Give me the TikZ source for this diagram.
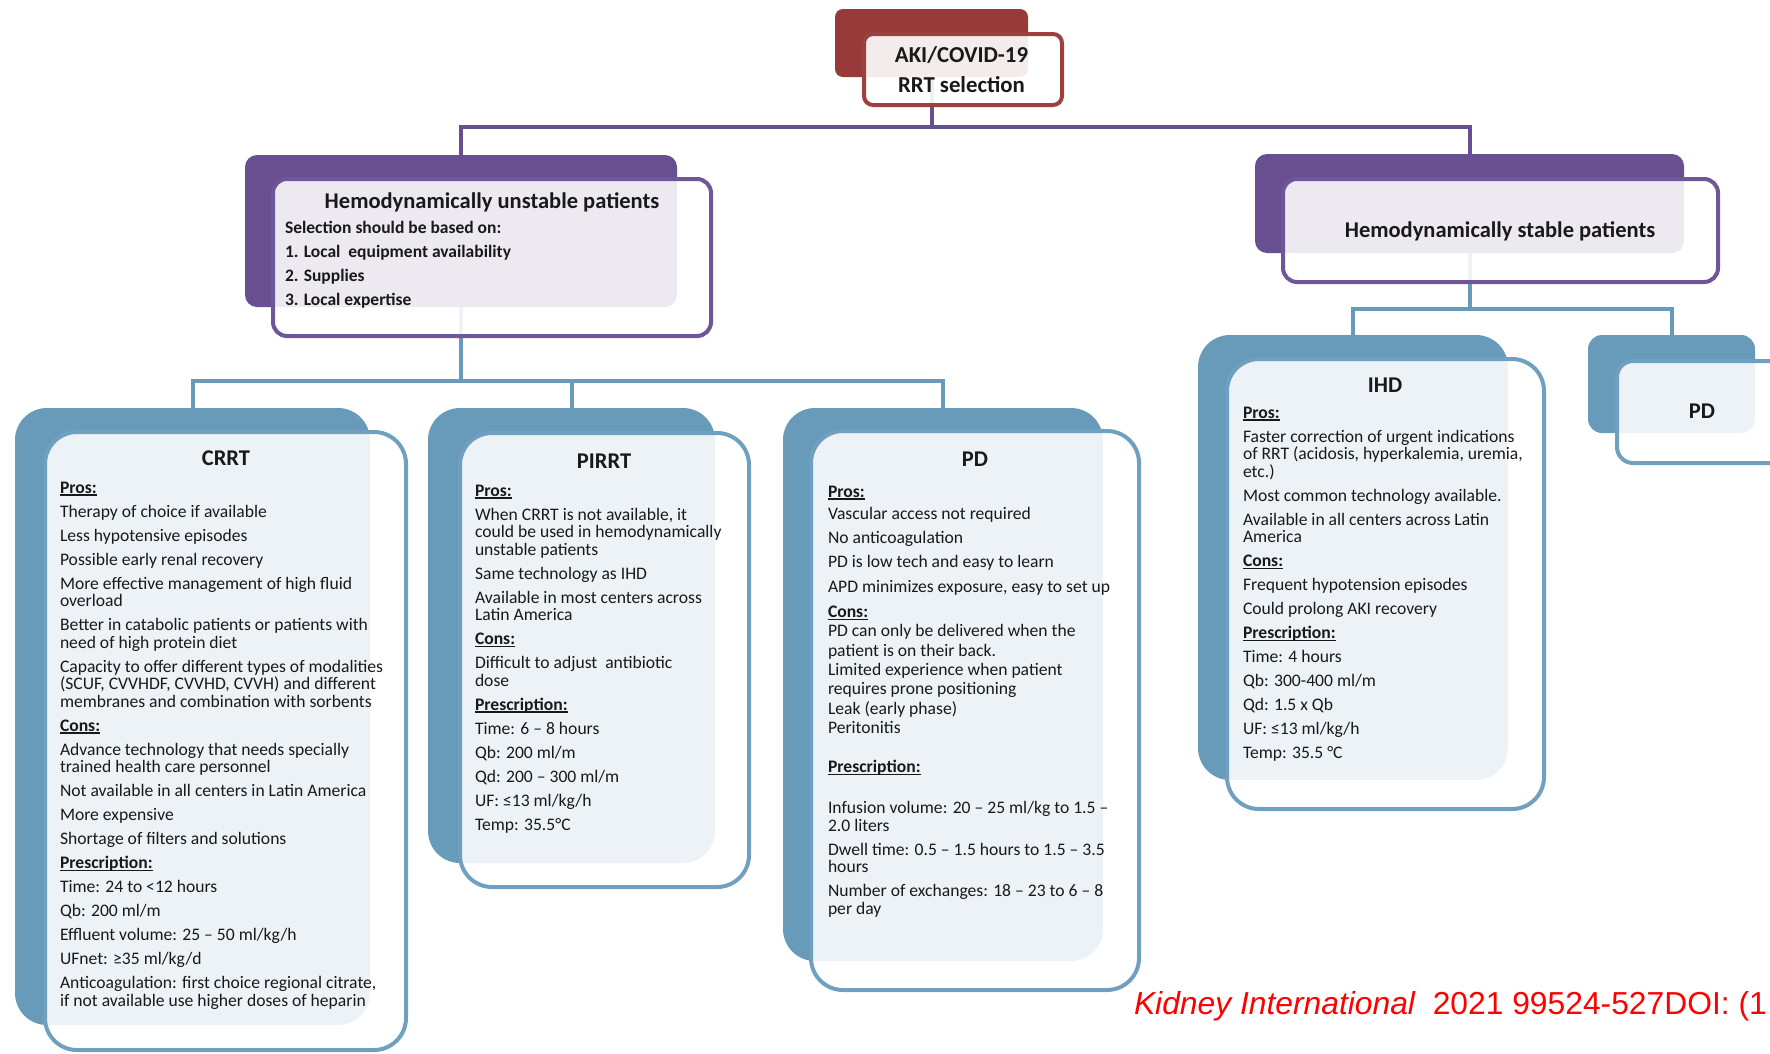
\documentclass[tikz,border=0pt]{standalone}
\usepackage{fontspec}
\setmainfont{Carlito}
\newfontfamily\citefont{Liberation Sans}
\definecolor{purp}{RGB}{103,79,146}
\definecolor{purpline}{RGB}{110,86,152}
\definecolor{dred}{RGB}{151,58,57}
\definecolor{dredline}{RGB}{158,64,64}
\definecolor{stblue}{RGB}{104,154,186}
\definecolor{stblueline}{RGB}{112,160,192}
\definecolor{txt}{RGB}{25,25,25}
\newlength\hdlen
\newcommand\hd[1]{\settowidth\hdlen{\bfseries #1}{\bfseries #1}\hspace{-\hdlen}\rule[-2.7pt]{\hdlen}{1.3pt}}
\newcommand\bodyfont{\fontsize{17.6pt}{17.5pt}\selectfont}
\newcommand\bodytext[2]{\parbox[t]{#1}{\bodyfont\raggedright #2}}
\newcommand\g{\\[6.5pt]}
\pgfdeclarelayer{bgl}
\pgfdeclarelayer{conn}
\pgfsetlayers{bgl,conn,main}
\begin{document}
\begin{tikzpicture}[x=1pt,y=-1pt,
 every node/.style={inner sep=0pt,outer sep=0pt},
 backP/.style={fill=purp,draw=none,rounded corners=12pt},
 frontP/.style={fill=white,fill opacity=0.88,draw=purpline,draw opacity=1,line width=4pt,rounded corners=14pt},
 backR/.style={fill=dred,draw=none,rounded corners=8pt},
 frontR/.style={fill=white,fill opacity=0.9,draw=dredline,draw opacity=1,line width=4pt,rounded corners=9pt},
 backB/.style={fill=stblue,draw=none,rounded corners=32pt},
 frontB/.style={fill=white,fill opacity=0.88,draw=stblueline,draw opacity=1,line width=4pt,rounded corners=32pt},
 backBs/.style={fill=stblue,draw=none,rounded corners=14pt},
 frontBs/.style={fill=white,fill opacity=0.88,draw=stblueline,draw opacity=1,line width=4pt,rounded corners=16pt},
 connP/.style={draw=purp,line width=4pt},
 connB/.style={draw=stblue,line width=4pt},
 ttl/.style={font=\fontsize{22.5pt}{26pt}\selectfont\bfseries,text=txt,anchor=base},
 body/.style={text=txt,anchor=base west},
 sz/.style 2 args={minimum width=#1,minimum height=#2,anchor=north west}]

\useasboundingbox (0,0) rectangle (1770,1053);
\begin{pgfonlayer}{bgl}
\fill[white] (0,0) rectangle (1770,1053);
\end{pgfonlayer}

% top
\node[backR,sz={193pt}{68pt}] (akiB) at (835,9) {};
\node[frontR,sz={198pt}{71pt}] (akiF) at (864,34) {};
\node[ttl,font=\fontsize{22.8pt}{26pt}\selectfont\bfseries] (akiT1) at (961.5,62) {AKI/COVID-19};
\node[ttl,font=\fontsize{22.8pt}{26pt}\selectfont\bfseries] (akiT2) at (961.5,92) {RRT selection};

% unstable
\node[backP,sz={432pt}{152pt}] (ubB) at (245,155) {};
\node[frontP,sz={438pt}{157pt}] (ubF) at (273,179) {};
\node[ttl] (ubT) at (492,208) {Hemodynamically unstable patients};
\node[body] (ubX) at (285,233) {\parbox[t]{420pt}{\fontsize{17.5pt}{24pt}\selectfont\bfseries\raggedright
Selection should be based on:\\
1. Local\ \ equipment availability\\
2. Supplies\\
3. Local expertise}};

% stable
\node[backP,sz={429pt}{99pt}] (sbB) at (1255,154) {};
\node[frontP,sz={435pt}{103pt}] (sbF) at (1283,179) {};
\node[ttl] (sbT) at (1500,237) {Hemodynamically stable patients};

% CRRT
\node[backB,sz={355pt}{617pt}] (crB) at (15,408) {};
\node[frontB,sz={361pt}{618pt}] (crF) at (45,432) {};
\node[ttl] (crT) at (226,465) {CRRT};
\node[body] (crX) at (60,493) {\bodytext{345pt}{%
\hd{Pros:}\g
Therapy of choice if available\g
Less hypotensive episodes\g
Possible early renal recovery\g
More effective management of high fluid\\
overload\g
Better in catabolic patients or patients with\\
need of high protein diet\g
Capacity to offer different types of modalities\\
(SCUF, CVVHDF, CVVHD, CVVH) and different\\
membranes and combination with sorbents\g
\hd{Cons:}\g
Advance technology that needs specially\\
trained health care personnel\g
Not available in all centers in Latin America\g
More expensive\g
Shortage of filters and solutions\g
\hd{Prescription:}\g
Time: 24 to <12 hours\g
Qb: 200 ml/m\g
Effluent volume: 25 – 50 ml/kg/h\g
UFnet: ≥35 ml/kg/d\g
Anticoagulation: first choice regional citrate,\\
if not available use higher doses of heparin}};

% PIRRT
\node[backB,sz={287pt}{455pt}] (piB) at (428,408) {};
\node[frontB,sz={289pt}{454pt}] (piF) at (460,433) {};
\node[ttl] (piT) at (604,468) {PIRRT};
\node[body] (piX) at (475,496) {\bodytext{280pt}{%
\hd{Pros:}\g
When CRRT is not available, it\\
could be used in hemodynamically\\
unstable patients\g
Same technology as IHD\g
Available in most centers across\\
Latin America\g
\hd{Cons:}\g
Difficult to adjust\ \ antibiotic\\
dose\g
\hd{Prescription:}\g
Time: 6 – 8 hours\g
Qb: 200 ml/m\g
Qd: 200 – 300 ml/m\g
UF: ≤13 ml/kg/h\g
Temp: 35.5°C}};

% PD
\node[backB,sz={320pt}{553pt}] (pdB) at (783,408) {};
\node[frontB,sz={328pt}{559pt}] (pdF) at (811,431) {};
\node[ttl] (pdT) at (975,466) {PD};
\node[body] (pdX) at (828,497) {\bodytext{310pt}{%
\hd{Pros:}\\[4.5pt]
Vascular access not required\g
No anticoagulation\\[7pt]
PD is low tech and easy to learn\\[7pt]
APD minimizes exposure, easy to set up\\[8pt]
\hd{Cons:}\\[1.5pt]
PD can only be delivered when the\\[2.5pt]
patient is on their back.\\[1.5pt]
Limited experience when patient\\[1.5pt]
requires prone positioning\\[2pt]
Leak (early phase)\\[1.5pt]
Peritonitis\\[22pt]
\hd{Prescription:}\\[23.5pt]
Infusion volume: 20 – 25 ml/kg to 1.5 –\\
2.0 liters\g
Dwell time: 0.5 – 1.5 hours to 1.5 – 3.5\\
hours\g
Number of exchanges: 18 – 23 to 6 – 8\\
per day}};

% IHD
\node[backB,sz={310pt}{445pt}] (ihB) at (1198,335) {};
\node[frontB,sz={317pt}{450pt}] (ihF) at (1227,359) {};
\node[ttl] (ihT) at (1385,392) {IHD};
\node[body] (ihX) at (1243,418) {\bodytext{300pt}{%
\hd{Pros:}\g
Faster correction of urgent indications\\
of RRT (acidosis, hyperkalemia, uremia,\\
etc.)\g
Most common technology available.\g
Available in all centers across Latin\\
America\g
\hd{Cons:}\g
Frequent hypotension episodes\g
Could prolong AKI recovery\g
\hd{Prescription:}\g
Time: 4 hours\g
Qb: 300-400 ml/m\g
Qd: 1.5 x Qb\g
UF: ≤13 ml/kg/h\g
Temp: 35.5 °C}};

% PD right
\node[backBs,sz={167pt}{98pt}] (pdrB) at (1588,335) {};
\node[frontBs,sz={200pt}{102pt}] (pdrF) at (1617,361) {};
\node[ttl] (pdrT) at (1702,418) {PD};

% citation
\node[anchor=base west,text=red] (cite) at (1134,1014) {\citefont\fontsize{31.8pt}{36pt}\selectfont\itshape Kidney International\upshape\ \ 2021 99524-527DOI: (1};

% connectors
\coordinate (busTop) at (0,127);
\coordinate (busU) at (0,381);
\coordinate (busS) at (0,309);
\coordinate (jTop) at (akiB.south |- busTop);
\coordinate (jU) at (ubB.south |- busU);
\coordinate (jS) at (sbB.south |- busS);
\begin{pgfonlayer}{conn}
\draw[connP] (akiB.south) -- (jTop) -| (ubB.north);
\draw[connP] (jTop) -| (sbB.north);
\draw[connB] (ubB.south) -- (jU) -| (crB.north);
\draw[connB] (jU) -| (piB.north);
\draw[connB] (jU) -| (pdB.north);
\draw[connB] (sbB.south) -- (jS) -| (ihB.north);
\draw[connB] (jS) -| (pdrB.north);
\end{pgfonlayer}
\end{tikzpicture}
\end{document}
